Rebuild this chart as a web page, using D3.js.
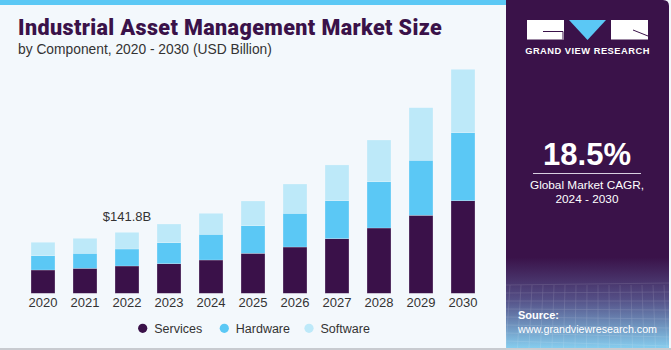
<!DOCTYPE html>
<html>
<head>
<meta charset="utf-8">
<script src="https://cdn.jsdelivr.net/npm/d3@7"></script>
<style>
  body { margin: 0; background: #fff; }
  svg { display: block; font-family: "Liberation Sans", Arial, sans-serif; }
</style>
</head>
<body>
<div id="chart"></div>
<script>
var years = ["2020","2021","2022","2023","2024","2025","2026","2027","2028","2029","2030"];
var services = [54.2, 58.1, 63.5, 68.8, 77.4, 93.0, 107.6, 127.0, 151.8, 181.4, 215.3];
var hardware = [33.3, 34.9, 39.5, 48.8, 59.8, 64.2, 78.4, 88.4, 107.6, 127.9, 158.1];
var software = [31.2, 34.9, 38.8, 43.5, 48.8, 57.4, 68.1, 83.0, 97.0, 122.3, 147.4];
var seriesNames = ["Services", "Hardware", "Software"];
var seriesColors = ["#3a1149", "#5bc8f5", "#bde9f9"];

var width = 671, height = 350;

var svg = d3.select("#chart")
    .append("svg")
      .attr("width", width)
      .attr("height", height);

var defs = svg.append("defs");
var grad = defs.append("linearGradient")
    .attr("id", "panelGrad")
    .attr("x1", 0).attr("y1", 0).attr("x2", 0).attr("y2", 1);
grad.append("stop").attr("offset", "0%").attr("stop-color", "#3a1249");
grad.append("stop").attr("offset", "74%").attr("stop-color", "#3a1249");
grad.append("stop").attr("offset", "86%").attr("stop-color", "#544f86");
grad.append("stop").attr("offset", "100%").attr("stop-color", "#86cdee");

// background
svg.append("rect")
    .attr("x", 0).attr("y", 0)
    .attr("width", width).attr("height", height)
    .attr("fill", "#f3f8fc");
svg.append("rect")
    .attr("x", 0).attr("y", 0)
    .attr("width", 510).attr("height", 5)
    .attr("fill", "#5bc8f5");
svg.append("rect")
    .attr("x", 0).attr("y", 348)
    .attr("width", width).attr("height", 2)
    .attr("fill", "#c8cbd0");

// right panel
svg.append("path")
    .attr("d", "M506,0 H663 Q669,0 669,6 V348 H506 Z")
    .attr("fill", "url(#panelGrad)");

// grid texture hint on panel bottom
var gridG = svg.append("g").attr("opacity", 0.18);
d3.range(0, 9).forEach(function(i){
    gridG.append("line")
        .attr("x1", 506).attr("x2", 669)
        .attr("y1", 285 + i * 8).attr("y2", 283 + i * 8 + i)
        .attr("stroke", "#fff").attr("stroke-width", 0.6);
});
d3.range(0, 16).forEach(function(i){
    gridG.append("line")
        .attr("x1", 510 + i * 11).attr("x2", 506 + i * 11.5)
        .attr("y1", 285).attr("y2", 348)
        .attr("stroke", "#fff").attr("stroke-width", 0.6);
});

// logo
var logo = svg.append("g");
logo.append("rect").attr("x", 527).attr("y", 20).attr("width", 37).attr("height", 19.5).attr("fill", "#fff");
logo.append("path").attr("d", "M543,31.5 H563 V39.5").attr("fill", "none").attr("stroke", "#3a1249").attr("stroke-width", 1);
logo.append("path").attr("d", "M569,20 H606 L587.5,40 Z").attr("fill", "#5bc8f5");
logo.append("rect").attr("x", 611).attr("y", 20).attr("width", 37).attr("height", 19.5).attr("fill", "#fff");
logo.append("path").attr("d", "M633,30 L648,36").attr("stroke", "#3a1249").attr("stroke-width", 1);
logo.append("text")
    .attr("x", 587.5).attr("y", 54)
    .attr("text-anchor", "middle")
    .attr("fill", "#fff")
    .style("font-size", "9.3px")
    .style("font-weight", "bold")
    .style("letter-spacing", "0.5px")
    .text("GRAND VIEW RESEARCH");

// CAGR
svg.append("text")
    .attr("x", 587).attr("y", 165)
    .attr("text-anchor", "middle")
    .attr("fill", "#fff")
    .style("font-size", "31px")
    .style("font-weight", "bold")
    .text("18.5%");
svg.append("line")
    .attr("x1", 533).attr("x2", 641)
    .attr("y1", 173.5).attr("y2", 173.5)
    .attr("stroke", "#d8d0e0").attr("stroke-width", 1);
svg.append("text")
    .attr("x", 587).attr("y", 189)
    .attr("text-anchor", "middle")
    .attr("fill", "#fff")
    .style("font-size", "11.8px")
    .text("Global Market CAGR,");
svg.append("text")
    .attr("x", 587).attr("y", 203)
    .attr("text-anchor", "middle")
    .attr("fill", "#fff")
    .style("font-size", "11.8px")
    .text("2024 - 2030");

svg.append("text")
    .attr("x", 518).attr("y", 319)
    .attr("fill", "#fff")
    .style("font-size", "11px")
    .style("font-weight", "bold")
    .text("Source:");
svg.append("text")
    .attr("x", 518).attr("y", 333)
    .attr("fill", "#fff")
    .style("font-size", "10.7px")
    .text("www.grandviewresearch.com");

// titles
svg.append("text")
    .attr("x", 18).attr("y", 35)
    .attr("fill", "#3a1249")
    .style("font-family", "Roboto, sans-serif")
    .style("font-size", "21.5px")
    .style("font-weight", "900")
    .style("letter-spacing", "0.4px")
    .text("Industrial Asset Management Market Size");
svg.append("text")
    .attr("x", 18).attr("y", 54)
    .attr("fill", "#333")
    .style("font-size", "13.8px")
    .text("by Component, 2020 - 2030 (USD Billion)");

// stacked bars
var data = years.map(function(y, i){
    return {year: y, Services: services[i], Hardware: hardware[i], Software: software[i]};
});
var stack = d3.stack().keys(seriesNames)(data);

var x = d3.scaleBand()
    .domain(years)
    .range([22, 484])
    .paddingInner(0.43)
    .paddingOuter(0.215);

var y = d3.scaleLinear()
    .domain([0, 520])
    .range([293.3, 293.3 - 520 / 2.325]);

var color = d3.scaleOrdinal().domain(seriesNames).range(seriesColors);

svg.append("g")
    .selectAll("g")
    .data(stack)
    .enter()
    .append("g")
      .attr("fill", function(d){ return color(d.key); })
    .selectAll("rect")
    .data(function(d){ return d; })
    .enter()
    .append("rect")
      .attr("x", function(d){ return x(d.data.year); })
      .attr("y", function(d){ return y(d[1]); })
      .attr("width", x.bandwidth())
      .attr("height", function(d){ return y(d[0]) - y(d[1]); })
      .attr("stroke", "#ffffff")
      .attr("stroke-opacity", 0.35)
      .attr("stroke-width", 0.6);

// x axis labels
var xAxis = svg.append("g")
    .attr("transform", "translate(0,293.3)")
    .call(d3.axisBottom(x).tickSize(0).tickPadding(4));
xAxis.select(".domain").remove();
xAxis.selectAll("text")
    .attr("fill", "#333")
    .style("font-size", "13px")
    .style("font-family", "Liberation Sans, Arial, sans-serif");

// annotation
var i22 = years.indexOf("2022");
svg.append("text")
    .attr("x", x("2022") + x.bandwidth() / 2)
    .attr("y", y(services[i22] + hardware[i22] + software[i22]) - 11)
    .attr("text-anchor", "middle")
    .attr("fill", "#333")
    .style("font-size", "13px")
    .text("$141.8B");

// legend
var legendX = [142.7, 224.3, 309];
var legend = svg.append("g")
    .selectAll("g")
    .data(seriesNames)
    .enter()
    .append("g")
      .attr("transform", function(d, i){ return "translate(" + legendX[i] + ",328.3)"; });
legend.append("circle")
    .attr("r", 4.6)
    .attr("fill", function(d){ return color(d); });
legend.append("text")
    .attr("x", 11.5).attr("y", 4.3)
    .attr("fill", "#333")
    .style("font-size", "12.5px")
    .text(function(d){ return d; });
</script>
</body>
</html>
